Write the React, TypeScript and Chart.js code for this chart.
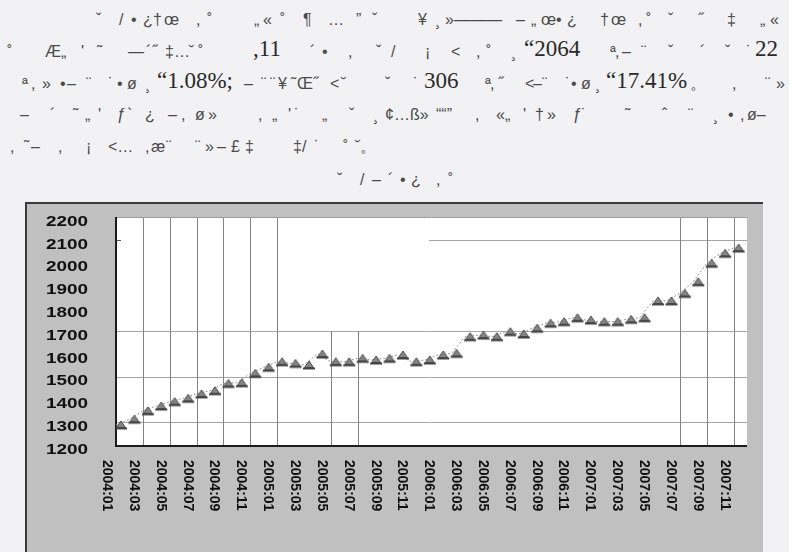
import React, { useEffect, useRef } from "react";
import { Chart, registerables } from "chart.js";
Chart.register(...registerables);

// ---- chart data ----
const months = [
  "2004:01", "2004:02", "2004:03", "2004:04", "2004:05", "2004:06", "2004:07", "2004:08", "2004:09", "2004:10", "2004:11", "2004:12",
  "2005:01", "2005:02", "2005:03", "2005:04", "2005:05", "2005:06", "2005:07", "2005:08", "2005:09", "2005:10", "2005:11", "2005:12",
  "2006:01", "2006:02", "2006:03", "2006:04", "2006:05", "2006:06", "2006:07", "2006:08", "2006:09", "2006:10", "2006:11", "2006:12",
  "2007:01", "2007:02", "2007:03", "2007:04", "2007:05", "2007:06", "2007:07", "2007:08", "2007:09", "2007:10", "2007:11",
];
const indexValues = [
  1288, 1313, 1350, 1371, 1390, 1405, 1424, 1438, 1470, 1473, 1514, 1541,
  1565, 1558, 1551, 1599, 1565, 1565, 1580, 1573, 1580, 1595, 1565, 1573,
  1595, 1602, 1675, 1682, 1675, 1697, 1687, 1712, 1734, 1741, 1758, 1748,
  1741, 1741, 1751, 1758, 1832, 1832, 1865, 1916, 1997, 2041, 2064,
];
const yTickLabels = [2200, 2100, 2000, 1900, 1800, 1700, 1600, 1500, 1400, 1300, 1200];
const hGridValues = [1300, 1500, 1700];
const hGridPartialValue = 2100;
const vGridFull = ["2004:03", "2004:05", "2004:07", "2004:09", "2004:11", "2005:01", "2007:07", "2007:09", "2007:11"];
const vGridPartial = ["2005:05", "2005:07"];

// ---- surrounding (garbled) text ----
const textBaselines = [25, 57, 89, 120, 152, 185];
const textLines: [number, string][][] = [
  [[96, "ˇ"], [119, "/"], [131, "•"], [143, "¿"], [153, "†"], [164, "œ"], [196, ","], [207, "˚"], [254, "„"], [263, "«"], [280, "˚"], [303, "¶"], [328, "…"], [356, "”"], [372, "ˇ"], [418, "¥"], [435, "¸"], [445, "»———"], [516, "–"], [531, "„"], [541, "œ"], [556, "•"], [567, "¿"], [600, "†"], [611, "œ"], [638, ","], [646, "˚"], [668, "ˇ"], [698, "˝"], [727, "‡"], [760, "„"], [770, "«"]],
  [[7, "˚"], [45, "Æ"], [61, "„"], [81, "'"], [97, "˜"], [128, "—"], [146, "´"], [152, "˝"], [165, "‡"], [174, "…"], [189, "˘"], [198, "˚"], [253, ",11"], [310, "´"], [322, "•"], [348, ","], [376, "ˇ"], [391, "/"], [425, "¡"], [451, "<"], [476, ","], [486, "˚"], [511, "¸"], [524, "“2064"], [610, "ª"], [615, ","], [622, "–"], [641, "¨"], [668, "ˇ"], [700, "´"], [725, "ˇ"], [746, "˙"], [755, "22"]],
  [[22, "ª"], [31, ","], [42, "»"], [60, "•"], [67, "–"], [86, "¨"], [108, "˙"], [117, "•"], [127, "ø"], [145, "¸"], [157, "“1.08%;"], [244, "–"], [261, "¨"], [270, "¨"], [278, "¥"], [291, "˜"], [297, "Œ"], [313, "˝"], [330, "<"], [341, "˘"], [385, "ˇ"], [413, "˙"], [424, "306"], [485, "ª"], [490, ","], [498, "˝"], [525, "<"], [533, "–"], [542, "¨"], [565, "˙"], [571, "•"], [581, "ø"], [595, "¸"], [606, "“17.41%"], [690, "。"], [732, ","], [765, "¨"], [776, "»"]],
  [[20, "–"], [50, "´"], [73, "˜"], [85, "„"], [98, "'"], [117, "ƒ"], [127, "`"], [145, "¿"], [168, "–"], [181, ","], [195, "ø"], [208, "»"], [258, ","], [272, "„"], [288, "'"], [294, "˙"], [322, "„"], [349, "ˇ"], [373, "¸"], [385, "¢…ß»"], [436, "““”"], [475, ","], [496, "«„"], [523, "'"], [535, "†"], [547, "»"], [573, "ƒ"], [581, "˙"], [625, "˜"], [662, "ˆ"], [688, "¨"], [713, "¸"], [728, "•"], [740, ","], [747, "ø–"]],
  [[10, ","], [24, "˜"], [31, "–"], [58, ","], [86, "¡"], [108, "<…"], [145, ","], [151, "æ"], [166, "¨"], [195, "¨"], [205, "»"], [217, "–"], [231, "£"], [245, "‡"], [293, "‡"], [302, "/"], [314, "˙"], [343, "˚"], [355, "˘"], [360, "。"]],
  [[337, "ˇ"], [360, "/"], [372, "–"], [388, "´"], [400, "•"], [411, "¿"], [436, ","], [448, "˚"]],
];

function makeMarker(): HTMLCanvasElement {
  const c = document.createElement("canvas");
  c.width = 26;
  c.height = 14;
  const g = c.getContext("2d")!;
  const cx = 18, cy = 7;
  g.fillStyle = "#858585";
  g.strokeStyle = "#4a4a4a";
  g.lineWidth = 1;
  g.beginPath();
  g.moveTo(cx, cy - 4);
  g.lineTo(cx + 4.5, cy + 2.5);
  g.lineTo(cx - 4.5, cy + 2.5);
  g.closePath();
  g.fill();
  g.stroke();
  g.fillStyle = "#444";
  g.fillRect(cx - 6, cy + 2.5, 12, 2);
  return c;
}

const framePlugin = {
  id: "frameAxes",
  beforeDatasetsDraw(chart: any) {
    const { ctx, chartArea: a, scales } = chart;
    const x = scales.x, y = scales.y;
    ctx.save();
    ctx.fillStyle = "#ffffff";
    ctx.fillRect(a.left, a.top, a.right - a.left, a.bottom - a.top);

    ctx.lineWidth = 1;
    ctx.strokeStyle = "#a6a6a6";
    for (const v of hGridValues) {
      const py = Math.round(y.getPixelForValue(v)) + 0.5;
      ctx.beginPath(); ctx.moveTo(a.left, py); ctx.lineTo(a.right, py); ctx.stroke();
    }
    {
      const py = Math.round(y.getPixelForValue(hGridPartialValue)) + 0.5;
      ctx.beginPath(); ctx.moveTo(x.getPixelForValue(23.3), py); ctx.lineTo(a.right, py); ctx.stroke();
      ctx.strokeStyle = "#555";
      ctx.beginPath(); ctx.moveTo(a.left, py); ctx.lineTo(a.left + 5, py); ctx.stroke();
    }

    ctx.strokeStyle = "#828282";
    for (const m of vGridFull) {
      const px = Math.round(x.getPixelForValue(months.indexOf(m))) + 0.5;
      ctx.beginPath(); ctx.moveTo(px, a.top); ctx.lineTo(px, a.bottom); ctx.stroke();
    }
    const y1700 = y.getPixelForValue(1700);
    for (const m of vGridPartial) {
      const px = Math.round(x.getPixelForValue(months.indexOf(m))) + 0.5;
      ctx.beginPath(); ctx.moveTo(px, y1700); ctx.lineTo(px, a.bottom); ctx.stroke();
    }

    ctx.strokeStyle = "#9c9c9c";
    ctx.beginPath(); ctx.moveTo(a.left, a.top + 0.5); ctx.lineTo(a.right, a.top + 0.5); ctx.stroke();

    ctx.strokeStyle = "#1c1c1c";
    ctx.lineWidth = 2;
    ctx.beginPath(); ctx.moveTo(a.left, a.top); ctx.lineTo(a.left, a.bottom + 1); ctx.lineTo(a.right, a.bottom + 1); ctx.stroke();

    // y labels
    ctx.fillStyle = "#111";
    ctx.font = 'bold 14px "Liberation Sans", Arial, sans-serif';
    ctx.textAlign = "right";
    ctx.textBaseline = "middle";
    for (const v of yTickLabels) {
      ctx.save();
      ctx.translate(a.left - 28, y.getPixelForValue(v) + 5);
      ctx.scale(1.35, 1);
      ctx.fillText(String(v), 0, 0);
      ctx.restore();
    }

    // x labels, rotated clockwise
    ctx.font = 'bold 14px "Liberation Sans", Arial, sans-serif';
    ctx.textAlign = "left";
    ctx.textBaseline = "alphabetic";
    for (let i = 0; i < months.length; i += 2) {
      const px = x.getPixelForValue(i);
      ctx.save();
      ctx.translate(px - 13, a.bottom + 15);
      ctx.rotate(Math.PI / 2);
      ctx.fillText(months[i], 0, 0);
      ctx.restore();
    }
    ctx.restore();
  },
};

export default function App() {
  const ref = useRef<HTMLCanvasElement | null>(null);

  useEffect(() => {
    if (!ref.current) return;
    const marker = makeMarker();
    const chart = new Chart(ref.current, {
      type: "line",
      data: {
        datasets: [
          {
            data: indexValues.map((v, i) => ({ x: i, y: v })),
            borderColor: "#9a9a9a",
            borderWidth: 1,
            borderDash: [2, 2],
            fill: false,
            tension: 0,
            pointStyle: marker as any,
            pointRadius: 6,
          },
        ],
      },
      options: {
        animation: false,
        responsive: false,
        maintainAspectRatio: false,
        layout: { padding: { left: 91, top: 15, right: 16, bottom: 107 } },
        plugins: { legend: { display: false }, tooltip: { enabled: false } },
        scales: {
          x: { type: "linear", min: 0, max: 47, display: false },
          y: { type: "linear", min: 1200, max: 2200, display: false },
        },
      },
      plugins: [framePlugin],
    });
    return () => chart.destroy();
  }, []);

  const isNum = (t: string) => /\d/.test(t);

  return (
    <div style={{ position: "fixed", left: 0, top: 0, width: 789, height: 552, background: "#f2f2f4", overflow: "hidden" }}>
      {textLines.map((line, li) =>
        line.map(([x, t], ti) => {
          const num = isNum(t);
          return (
            <span
              key={li + "-" + ti}
              style={{
                position: "absolute",
                left: x,
                top: textBaselines[li] - (num ? 21 : 18.5),
                lineHeight: "26px",
                whiteSpace: "pre",
                fontFamily: num ? '"Liberation Serif", serif' : '"Liberation Sans", sans-serif',
                fontSize: num ? 23 : 16,
                color: num ? "#2a2a2a" : "#4a4a4a",
              }}
            >
              {t}
            </span>
          );
        })
      )}
      <div
        style={{
          position: "absolute",
          left: 25,
          top: 202,
          width: 738,
          height: 360,
          background: "#c0c0c0",
          borderTop: "2px solid #3a3a3a",
          borderLeft: "2px solid #3a3a3a",
          boxSizing: "border-box",
        }}
      />
      <canvas
        ref={ref}
        width={738}
        height={350}
        style={{ position: "absolute", left: 25, top: 202, width: 738, height: 350 }}
      />
    </div>
  );
}
